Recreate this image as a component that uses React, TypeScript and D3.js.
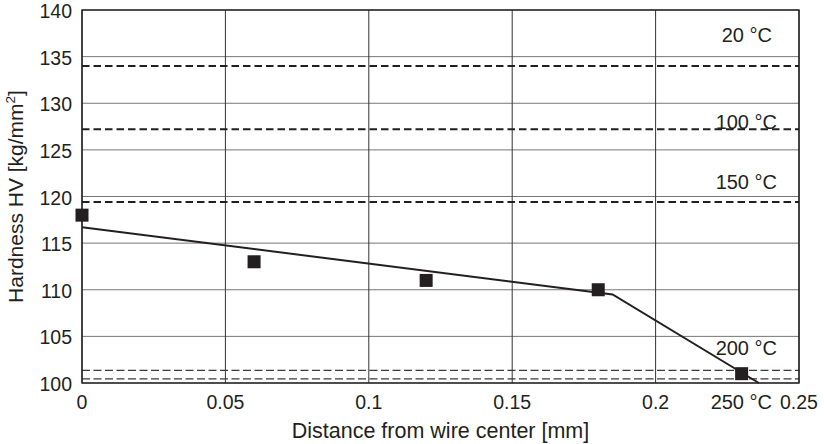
import React from "react";
import * as d3 from "d3";

// ---- data ----
const xTicks = [0, 0.05, 0.1, 0.15, 0.2, 0.25];
const xTickLabels = ["0", "0.05", "0.1", "0.15", "0.2", "0.25"];
const yTicks = [100, 105, 110, 115, 120, 125, 130, 135, 140];

const measuredX = [0, 0.06, 0.12, 0.18, 0.23];
const measuredY = [118, 113, 111, 110, 101];

const fitX = [0, 0.185, 0.236];
const fitY = [116.7, 109.5, 100];

const tempLabels = ["20 °C", "100 °C", "150 °C", "200 °C", "250 °C"];
const tempHardness = [134, 127.2, 119.4, 101.35, 100.45];
const tempStrong = [true, true, true, false, false];

const xTitle = "Distance from wire center [mm]";

// ---- layout ----
const W = 824;
const H = 444;
const m = { left: 82, right: 799, top: 10, bottom: 383 };
const INK = "#231f20";
const FONT = "'Liberation Sans', Arial, Helvetica, sans-serif";
// label anchors (pixel layout)
const labelEndX = [772, 777, 777, 777, 772];
const labelBaseline = [41.7, 129, 188.5, 355, 409];

export default function App() {
  const x = d3.scaleLinear().domain([0, 0.25]).range([m.left, m.right]);
  const y = d3.scaleLinear().domain([100, 140]).range([m.bottom, m.top]);

  const fitPts: [number, number][] = fitX.map((v, i) => [v, fitY[i]]);
  const line = d3
    .line<[number, number]>()
    .x((d) => x(d[0]))
    .y((d) => y(d[1]));

  const sq = 13;

  return (
    <svg
      width={W}
      height={H}
      style={{ position: "absolute", left: 0, top: 0, background: "#fff" }}
      fontFamily={FONT}
    >
      <rect x={0} y={0} width={W} height={H} fill="#fff" />
      {/* horizontal grid */}
      {yTicks.map((t) => (
        <line
          key={"hg" + t}
          x1={m.left}
          x2={m.right}
          y1={y(t)}
          y2={y(t)}
          stroke="#777"
          strokeWidth={1}
        />
      ))}
      {/* vertical grid */}
      {xTicks.map((t) => (
        <line
          key={"vg" + t}
          x1={x(t)}
          x2={x(t)}
          y1={m.top}
          y2={m.bottom}
          stroke="#333"
          strokeWidth={1}
        />
      ))}
      {/* temperature reference lines */}
      {tempHardness.map((v, i) => (
        <line
          key={"tl" + i}
          x1={m.left}
          x2={m.right}
          y1={y(v)}
          y2={y(v)}
          stroke={tempStrong[i] ? INK : "#3a3a3a"}
          strokeWidth={tempStrong[i] ? 2 : 1.2}
          strokeDasharray={tempStrong[i] ? "7.5,4" : "8,3.5"}
        />
      ))}
      {/* frame */}
      <rect
        x={m.left}
        y={m.top}
        width={m.right - m.left}
        height={m.bottom - m.top}
        fill="none"
        stroke={INK}
        strokeWidth={1.4}
      />
      <defs>
        <clipPath id="plotclip">
          <rect
            x={m.left}
            y={m.top}
            width={m.right - m.left}
            height={m.bottom - m.top + 1}
          />
        </clipPath>
      </defs>
      <path
        d={line(fitPts) || ""}
        fill="none"
        stroke={INK}
        strokeWidth={2}
        clipPath="url(#plotclip)"
      />
      {/* measured points */}
      {measuredX.map((v, i) => (
        <rect
          key={"pt" + i}
          x={x(v) - sq / 2}
          y={y(measuredY[i]) - sq / 2}
          width={sq}
          height={sq}
          fill={INK}
        />
      ))}
      {/* temperature labels */}
      {tempLabels.map((s, i) => (
        <text
          key={"tlab" + i}
          x={labelEndX[i]}
          y={labelBaseline[i]}
          textAnchor="end"
          fontSize={20}
          fill={INK}
        >
          {s}
        </text>
      ))}
      {/* y tick labels */}
      {yTicks.map((t) => (
        <text
          key={"yt" + t}
          x={72}
          y={y(t) + 8}
          textAnchor="end"
          fontSize={19.5}
          fill={INK}
        >
          {t}
        </text>
      ))}
      {/* x tick labels */}
      {xTicks.map((t, i) => (
        <text
          key={"xt" + t}
          x={x(t)}
          y={409}
          textAnchor="middle"
          fontSize={19.5}
          fill={INK}
        >
          {xTickLabels[i]}
        </text>
      ))}
      {/* axis titles */}
      <text
        x={(m.left + m.right) / 2}
        y={438}
        textAnchor="middle"
        fontSize={21.5}
        fill={INK}
      >
        {xTitle}
      </text>
      <text
        transform={`translate(23, ${(m.top + m.bottom) / 2}) rotate(-90)`}
        textAnchor="middle"
        fontSize={21}
        fill={INK}
      >
        Hardness HV [kg/mm
        <tspan fontSize={13.5} dy={-8}>
          2
        </tspan>
        <tspan dy={8}>]</tspan>
      </text>
    </svg>
  );
}
